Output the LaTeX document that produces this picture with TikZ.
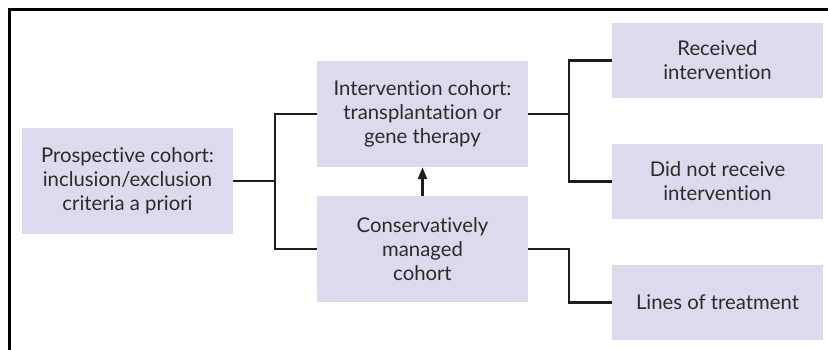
\documentclass[tikz,border=0pt]{standalone}
\usepackage{fontspec}
\setmainfont{Lato}[Ligatures={NoCommon}]
\usetikzlibrary{arrows.meta}
\definecolor{boxfill}{HTML}{DCDAEC}
\definecolor{txt}{HTML}{2B2B2B}
\definecolor{ln}{HTML}{1E1E1E}
\begin{document}
\begin{tikzpicture}[x=1pt,y=-1pt,
  cbox/.style={fill=boxfill,draw=none,text=txt,align=center,inner sep=0pt,
    font=\fontsize{20.3}{24}\selectfont},
  conn/.style={draw=ln,line width=2.4pt},
  frame/.style={draw=black,line width=2.8pt}]
\useasboundingbox (0,0) rectangle (828,350);
\coordinate (ftl) at (9.5,9.5);
\coordinate (ftr) at (828,9.5);
\coordinate (fbl) at (9.5,350);
\draw[frame] (ftr) -- (ftl) -- (fbl);
\node[cbox,minimum width=211pt,minimum height=106pt] (pro) at (127.5,181) {Prospective cohort:\\inclusion/exclusion\\criteria a priori};
\node[cbox,minimum width=211pt,minimum height=106pt] (int) at (422.5,114) {Intervention cohort:\\transplantation or\\gene therapy};
\node[cbox,minimum width=211pt,minimum height=106pt] (con) at (422.5,249) {Conservatively\\managed\\cohort};
\node[cbox,minimum width=211pt,minimum height=75pt] (rec) at (717.5,60.5) {Received\\intervention};
\node[cbox,minimum width=211pt,minimum height=75pt] (dnr) at (717.5,181.5) {Did not receive\\intervention};
\node[cbox,minimum width=211pt,minimum height=75pt] (lot) at (717.5,302.5) {Lines of treatment};
\coordinate (j1) at (275,181);
\coordinate (j2) at (569,114);
\coordinate (j3) at (569,249);
\draw[conn] (pro.east) -- (j1);
\draw[conn] (int.west) -| (j1) |- (con.west);
\draw[conn] (int.east) -- (j2);
\draw[conn] (rec.west) -| (j2) |- (dnr.west);
\draw[conn] (con.east) -- (j3) |- (lot.west);
\draw[conn,-{Triangle[length=12pt,width=9pt]}] (con.north) -- (int.south);
\end{tikzpicture}
\end{document}
